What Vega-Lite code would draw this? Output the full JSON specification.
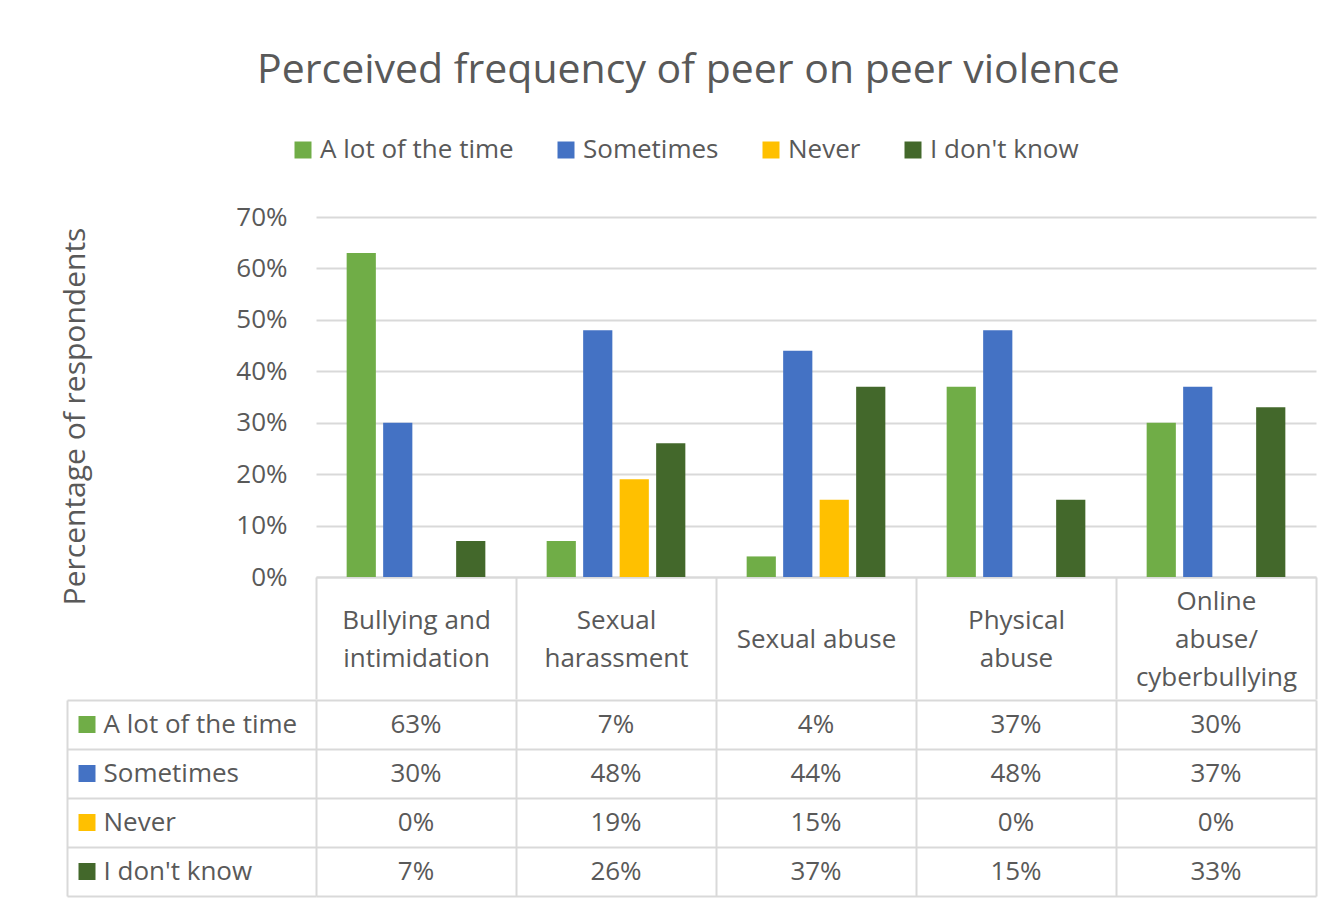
{
  "$schema": "https://vega.github.io/schema/vega-lite/v6.json",
  "padding": {"left": 60, "top": 50, "right": 5, "bottom": 5},
  "title": {"text": "Perceived frequency of peer on peer violence", "fontSize": 41, "font": "Open Sans", "fontWeight": "normal", "color": "#595959", "anchor": "middle", "offset": 45},
  "datasets": {
    "d": [
      {"category": "Bullying and intimidation", "series": "A lot of the time", "value": 0.63},
      {"category": "Bullying and intimidation", "series": "Sometimes", "value": 0.30},
      {"category": "Bullying and intimidation", "series": "Never", "value": 0.0},
      {"category": "Bullying and intimidation", "series": "I don't know", "value": 0.07},
      {"category": "Sexual harassment", "series": "A lot of the time", "value": 0.07},
      {"category": "Sexual harassment", "series": "Sometimes", "value": 0.48},
      {"category": "Sexual harassment", "series": "Never", "value": 0.19},
      {"category": "Sexual harassment", "series": "I don't know", "value": 0.26},
      {"category": "Sexual abuse", "series": "A lot of the time", "value": 0.04},
      {"category": "Sexual abuse", "series": "Sometimes", "value": 0.44},
      {"category": "Sexual abuse", "series": "Never", "value": 0.15},
      {"category": "Sexual abuse", "series": "I don't know", "value": 0.37},
      {"category": "Physical abuse", "series": "A lot of the time", "value": 0.37},
      {"category": "Physical abuse", "series": "Sometimes", "value": 0.48},
      {"category": "Physical abuse", "series": "Never", "value": 0.0},
      {"category": "Physical abuse", "series": "I don't know", "value": 0.15},
      {"category": "Online abuse/cyberbullying", "series": "A lot of the time", "value": 0.30},
      {"category": "Online abuse/cyberbullying", "series": "Sometimes", "value": 0.37},
      {"category": "Online abuse/cyberbullying", "series": "Never", "value": 0.0},
      {"category": "Online abuse/cyberbullying", "series": "I don't know", "value": 0.33}
    ]
  },
  "spacing": -14,
  "vconcat": [
    {
      "width": 1000,
      "height": 360,
      "data": {"name": "d"},
      "mark": {"type": "bar"},
      "encoding": {
        "x": {
          "field": "category", "type": "nominal",
          "sort": ["Bullying and intimidation", "Sexual harassment", "Sexual abuse", "Physical abuse", "Online abuse/cyberbullying"],
          "scale": {"paddingInner": 0, "paddingOuter": 0},
          "title": null,
          "axis": {
            "orient": "bottom", "tickBand": "extent", "ticks": true, "tickSize": 122, "tickColor": "#D9D9D9", "tickWidth": 2,
            "domain": true, "domainColor": "#D9D9D9", "domainWidth": 2, "grid": false,
            "labelAngle": 0, "labelFont": "Open Sans", "labelFontSize": 26, "labelColor": "#595959",
            "labelPadding": {"condition": [
              {"test": "datum.value == 'Online abuse/cyberbullying'", "value": -98},
              {"test": "datum.value == 'Sexual abuse'", "value": -60}
            ], "value": -79},
            "labelBaseline": "middle", "labelLineHeight": 38, "labelLimit": 0,
            "labelExpr": "datum.value == 'Bullying and intimidation' ? ['Bullying and', 'intimidation'] : datum.value == 'Sexual harassment' ? ['Sexual', 'harassment'] : datum.value == 'Physical abuse' ? ['Physical', 'abuse'] : datum.value == 'Online abuse/cyberbullying' ? ['Online', 'abuse/', 'cyberbullying'] : datum.value"
          }
        },
        "xOffset": {
          "field": "series", "type": "nominal",
          "sort": ["A lot of the time", "Sometimes", "Never", "I don't know"],
          "scale": {"paddingInner": 0.2, "paddingOuter": 0.84}
        },
        "y": {
          "field": "value", "type": "quantitative",
          "scale": {"domain": [0, 0.7]},
          "axis": {
            "values": [0, 0.1, 0.2, 0.3, 0.4, 0.5, 0.6, 0.7], "format": ".0%",
            "domain": false, "ticks": false, "grid": true, "gridColor": "#D9D9D9", "gridWidth": 2,
            "labelPadding": 29, "labelFont": "Open Sans", "labelFontSize": 26, "labelColor": "#595959",
            "title": "Percentage of respondents", "titleFont": "Open Sans", "titleFontSize": 30, "titleFontWeight": "normal", "titleColor": "#595959",
            "titleX": -241, "titleY": 199, "titleBaseline": "middle", "titleAlign": "center", "titleAngle": -90
          }
        },
        "color": {
          "field": "series", "type": "nominal",
          "scale": {"domain": ["A lot of the time", "Sometimes", "Never", "I don't know"], "range": ["#70AD47", "#4472C4", "#FFC000", "#43682B"]},
          "legend": {
            "orient": "none", "legendX": -26, "legendY": -80, "direction": "horizontal", "title": null,
            "symbolType": "square", "symbolSize": 289, "symbolStrokeWidth": 0,
            "labelFont": "Open Sans", "labelFontSize": 26, "labelColor": "#595959", "labelOffset": 4,
            "columnPadding": 39, "labelLimit": 0
          }
        }
      }
    },
    {
      "width": 1000,
      "height": 196,
      "data": {"name": "d"},
      "encoding": {
        "x": {
          "field": "category", "type": "nominal",
          "sort": ["Bullying and intimidation", "Sexual harassment", "Sexual abuse", "Physical abuse", "Online abuse/cyberbullying"],
          "scale": {"type": "band", "paddingInner": 0, "paddingOuter": 0},
          "title": null,
          "axis": {"orient": "bottom", "labels": false, "ticks": false, "domain": false, "grid": true, "tickBand": "extent", "gridColor": "#D9D9D9", "gridWidth": 2}
        }
      },
      "layer": [
        {
          "mark": {"type": "text", "font": "Open Sans", "fontSize": 26, "color": "#595959"},
          "encoding": {
            "y": {
              "field": "series", "type": "nominal",
              "sort": ["A lot of the time", "Sometimes", "Never", "I don't know"],
              "scale": {"type": "band", "paddingInner": 0, "paddingOuter": 0},
              "axis": {
                "orient": "left", "tickBand": "extent", "ticks": true, "tickSize": 249, "tickColor": "#D9D9D9", "tickWidth": 2,
                "grid": true, "gridColor": "#D9D9D9", "gridWidth": 2, "domain": false,
                "labelAlign": "left", "labelPadding": -36, "labelFont": "Open Sans", "labelFontSize": 26, "labelColor": "#595959",
                "labelLimit": 0, "labelBaseline": "middle", "title": null
              }
            },
            "text": {"field": "value", "type": "quantitative", "format": ".0%"}
          }
        },
        {
          "mark": {"type": "point", "opacity": 0},
          "encoding": {
            "y": {
              "field": "series", "type": "nominal",
              "sort": ["A lot of the time", "Sometimes", "Never", "I don't know"],
              "axis": {
                "orient": "left", "offset": 221, "ticks": true, "tickSize": 17, "tickWidth": 17,
                "tickColor": {"condition": [
                  {"test": "datum.value === 'A lot of the time'", "value": "#70AD47"},
                  {"test": "datum.value === 'Sometimes'", "value": "#4472C4"},
                  {"test": "datum.value === 'Never'", "value": "#FFC000"}
                ], "value": "#43682B"},
                "labels": false, "domain": false, "grid": false, "title": null
              }
            }
          }
        },
        {
          "mark": {"type": "point", "opacity": 0},
          "encoding": {
            "y": {
              "field": "series", "type": "nominal",
              "sort": ["A lot of the time", "Sometimes", "Never", "I don't know"],
              "axis": {
                "orient": "left", "offset": 249, "ticks": false, "labels": false, "grid": false,
                "domain": true, "domainColor": "#D9D9D9", "domainWidth": 2, "title": null
              }
            }
          }
        }
      ],
      "resolve": {"axis": {"y": "independent"}}
    }
  ],
  "config": {
    "view": {"stroke": null},
    "font": "Open Sans"
  }
}
